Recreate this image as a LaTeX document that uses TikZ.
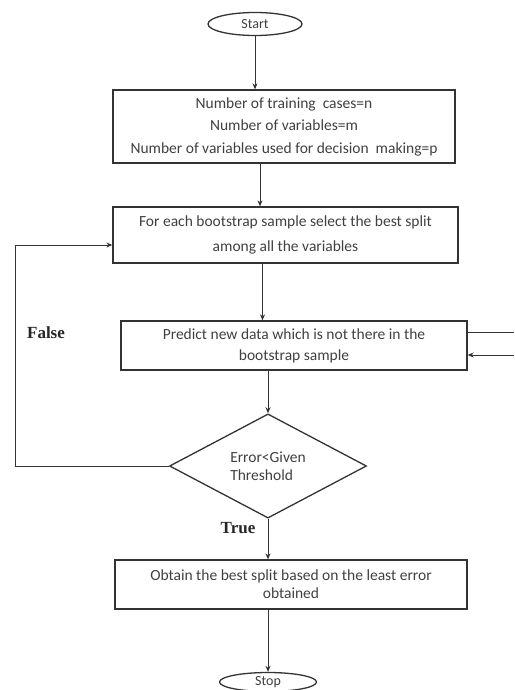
\documentclass[tikz,border=0pt]{standalone}
\usepackage{fontspec}
\newfontfamily\boxfont{Carlito}
\newfontfamily\labfont{Liberation Serif}
\usetikzlibrary{arrows.meta,shapes.geometric}

\begin{document}
\begin{tikzpicture}[x=1pt,y=-1pt,
  line width=1pt,draw=black!80,
  procbox/.style={draw,line width=1.3pt,rectangle,align=center,inner sep=0pt,
    font=\boxfont\fontsize{15.5}{21}\selectfont,text=black!75},
  termbox/.style={draw,line width=1.3pt,ellipse,inner sep=0pt,
    font=\boxfont\fontsize{14}{16}\selectfont,text=black!75},
  arr/.style={-{Stealth[length=6pt,width=5pt]}},
  branch/.style={font=\labfont\bfseries\fontsize{17}{18}\selectfont,text=black!85}]
  \useasboundingbox (0,0) rectangle (514,690);

  % terminals
  \node[termbox,minimum width=94pt,minimum height=23pt] (start) at (255,24) {Start};
  \node[termbox,minimum width=97pt,minimum height=19pt] (stop) at (268,682) {Stop};

  % process boxes
  \node[procbox,minimum width=342pt,minimum height=73pt,
    font=\boxfont\fontsize{15.5}{22.5}\selectfont] (params) at (284,126.5)
    {Number of training\ \ cases=n\\Number of variables=m\\Number of variables used for decision\ \ making=p};
  \node[procbox,minimum width=345pt,minimum height=56pt,
    font=\boxfont\fontsize{15.5}{25}\selectfont] (split) at (285.5,235)
    {For each bootstrap sample select the best split\\among all the variables};
  \node[procbox,minimum width=346pt,minimum height=49pt] (predict) at (294,345.5)
    {Predict new data which is not there in the\\bootstrap sample};
  \node[procbox,minimum width=352pt,minimum height=49pt,
    font=\boxfont\fontsize{15.5}{18}\selectfont] (best) at (291,584.5)
    {Obtain the best split based on the least error\\obtained};

  % decision
  \node[draw,line width=1.3pt,diamond,minimum width=197pt,minimum height=77pt,
    inner sep=0pt,align=left,font=\boxfont\fontsize{15.5}{18}\selectfont,text=black!75]
    (decide) at (268,466) {Error<Given\\Threshold};

  % free ends
  \coordinate (loop) at (15,245);
  \coordinate (outA) at (514,332);
  \coordinate (outB) at (514,355);

  % main flow
  \draw[arr] (start.south) -- (start.south |- params.north);
  \draw[arr] ([xshift=-24pt]params.south) -- ([xshift=-24pt]params.south |- split.north);
  \draw[arr] ([xshift=-23pt]split.south) -- ([xshift=-23pt]split.south |- predict.north);
  \draw[arr] (decide.north |- predict.south) -- (decide.north);
  \draw[arr] (decide.south) -- (decide.south |- best.north);
  \draw[arr] (stop.north |- best.south) -- (stop.north);

  % false loop back
  \draw[arr] (decide.west) -| (loop) -- (loop -| split.west);

  % lines at the right
  \draw (outA -| predict.east) -- (outA);
  \draw[arr] (outB) -- (outB -| predict.east);

  % Labels
  \node[branch] (false) at (46,333) {False};
  \node[branch] (true) at (238,528) {True};
\end{tikzpicture}
\end{document}
